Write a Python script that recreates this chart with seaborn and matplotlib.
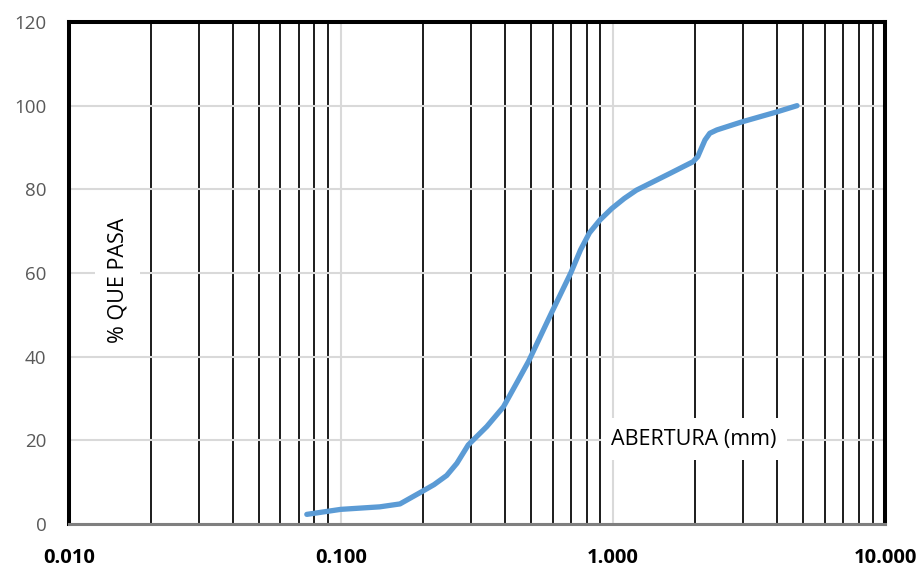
import matplotlib
matplotlib.use("Agg")
import matplotlib.pyplot as plt
from matplotlib.ticker import LogLocator, NullFormatter, FixedLocator, FixedFormatter
import seaborn as sns
import pandas as pd

# Data (sieve opening in mm, % passing)
abertura_mm = [0.075, 0.10, 0.139, 0.165, 0.198, 0.22, 0.245, 0.267, 0.294, 0.344, 0.396,
               0.449, 0.49, 0.59, 0.70, 0.76, 0.82, 0.897, 0.99, 1.10, 1.22, 1.62, 1.97,
               2.05, 2.12, 2.18, 2.27, 2.41, 2.97, 4.0, 4.75]
pct_pasa = [2.3, 3.5, 4.1, 4.8, 7.7, 9.4, 11.6, 14.5, 18.9, 23.3, 28.0,
            34.4, 38.9, 50.0, 60.0, 65.5, 69.6, 72.7, 75.4, 77.8, 79.8, 83.8, 86.6,
            87.8, 90.0, 91.8, 93.4, 94.2, 96.1, 98.5, 100.0]
xtick_vals = [0.01, 0.1, 1, 10]
xtick_labels = ["0.010", "0.100", "1.000", "10.000"]
ytick_vals = [0, 20, 40, 60, 80, 100, 120]

df = pd.DataFrame({"abertura": abertura_mm, "pasa": pct_pasa})

sns.set_style("white")
plt.rcParams["font.family"] = ["Open Sans", "DejaVu Sans"]

fig = plt.figure(figsize=(9.19, 5.67), dpi=100)
ax = fig.add_axes([68.7 / 919, 43 / 567, (885 - 68.7) / 919, (524 - 22) / 567])

sns.lineplot(data=df, x="abertura", y="pasa", sort=False, ax=ax,
             color="#5B9BD5", linewidth=3.8, zorder=4)
for ln in ax.lines:
    ln.set_solid_capstyle("round")
    ln.set_solid_joinstyle("round")

ax.set_xscale("log")
ax.set_xlim(0.01, 10)
ax.set_ylim(0, 120)

ax.xaxis.set_major_locator(FixedLocator(xtick_vals))
ax.xaxis.set_major_formatter(FixedFormatter(xtick_labels))
ax.xaxis.set_minor_locator(LogLocator(base=10, subs=[2, 3, 4, 5, 6, 7, 8, 9], numticks=20))
ax.xaxis.set_minor_formatter(NullFormatter())
ax.set_yticks(ytick_vals)

ax.set_axisbelow(True)
ax.grid(which="major", axis="both", color="#d9d9d9", linewidth=1.5)
ax.grid(which="minor", axis="x", color="black", linewidth=1.25)

ax.tick_params(axis="both", which="both", length=0)
ax.tick_params(axis="y", labelsize=13.5, labelcolor="#595959", pad=16)
ax.tick_params(axis="x", labelsize=14.5, labelcolor="black", pad=17)
for lab in ax.get_xticklabels():
    lab.set_fontweight("bold")

ax.set_xlabel("")
ax.set_ylabel("")

for side in ["top", "left", "right"]:
    ax.spines[side].set_visible(True)
    ax.spines[side].set_color("black")
    ax.spines[side].set_linewidth(2.9)
ax.spines["bottom"].set_visible(True)
ax.spines["bottom"].set_color("#7f7f7f")
ax.spines["bottom"].set_linewidth(2.2)

ax.text(0.060, 0.486, "% QUE PASA", transform=ax.transAxes, rotation=90,
        ha="center", va="center", fontsize=15.5, color="black", zorder=5,
        bbox=dict(boxstyle="square,pad=0.55", facecolor="white", edgecolor="none"))
ax.text(0.766, 0.169, "ABERTURA (mm)", transform=ax.transAxes,
        ha="center", va="center", fontsize=15.5, color="black", zorder=5,
        bbox=dict(boxstyle="square,pad=0.5", facecolor="white", edgecolor="none"))

fig.savefig("out.png", dpi=100)
